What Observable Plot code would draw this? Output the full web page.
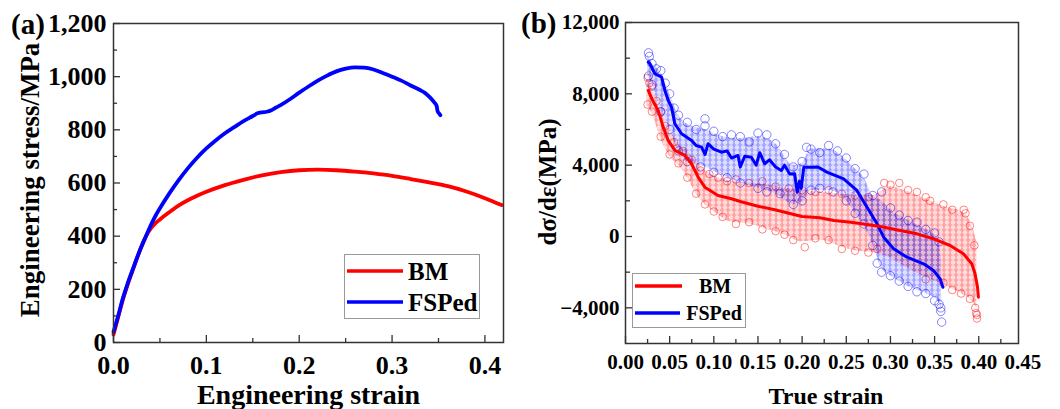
<!DOCTYPE html>
<html><head><meta charset="utf-8">
<script src="https://cdn.jsdelivr.net/npm/d3@7"></script>
<script src="https://cdn.jsdelivr.net/npm/@observablehq/plot@0.6"></script>
<style>
body{margin:0;background:#fff;}
#wrap{position:relative;width:1060px;height:409px;font-family:"Liberation Serif","Times New Roman",serif;font-weight:bold;color:#000;overflow:hidden;}
.pane{position:absolute;top:0;}
.tag{position:absolute;font-size:29px;line-height:1;}
.leg{position:absolute;}
</style>
</head><body>
<svg width="0" height="0" style="position:absolute">
<defs>
<pattern id="patR" width="6" height="5" patternUnits="userSpaceOnUse">
<circle cx="3" cy="2.5" r="3" fill="none" stroke="#ff0000" stroke-width="0.55" stroke-opacity="0.6"/>
</pattern>
<pattern id="patB" width="6" height="5" patternUnits="userSpaceOnUse">
<circle cx="3" cy="2.5" r="3" fill="none" stroke="#0000ff" stroke-width="0.55" stroke-opacity="0.6"/>
</pattern>
</defs>
</svg>
<div id="wrap">
  <div class="pane" id="pa" style="left:0"></div>
  <div class="pane" id="pb" style="left:530px"></div>
  <div class="tag" style="left:11px;top:10px">(a)</div>
  <div class="tag" style="left:521px;top:9px">(b)</div>
</div>
<script>
// ---------- shared series ----------
const seriesNames = ["BM", "FSPed"];
const seriesColors = ["#ff0000", "#0000ff"];

// ---------- panel (a): engineering stress-strain ----------
const bmStrainA = [0, 0.005, 0.01, 0.015, 0.02, 0.025, 0.03, 0.035, 0.04, 0.045, 0.05, 0.06, 0.07, 0.08, 0.09, 0.1, 0.12, 0.14, 0.16, 0.18, 0.2, 0.22, 0.24, 0.26, 0.28, 0.3, 0.32, 0.34, 0.36, 0.38, 0.4, 0.418];
const bmStressA = [30, 95, 160, 215, 265, 315, 360, 400, 428, 448, 463, 490, 515, 535, 552, 567, 592, 612, 629, 641, 648, 650, 648, 643, 636, 627, 615, 602, 588, 568, 543, 517];
const fsStrainA = [0, 0.005, 0.01, 0.015, 0.02, 0.025, 0.03, 0.035, 0.04, 0.045, 0.05, 0.06, 0.07, 0.08, 0.09, 0.1, 0.11, 0.12, 0.13, 0.14, 0.15, 0.155, 0.16, 0.165, 0.17, 0.175, 0.18, 0.19, 0.2, 0.21, 0.22, 0.23, 0.24, 0.25, 0.26, 0.27, 0.28, 0.29, 0.3, 0.31, 0.32, 0.33, 0.335, 0.34, 0.345, 0.348, 0.349, 0.351, 0.352];
const fsStressA = [40, 100, 165, 220, 268, 315, 360, 400, 440, 475, 505, 560, 610, 655, 695, 730, 760, 787, 810, 833, 852, 862, 866, 868, 874, 884, 893, 915, 940, 963, 985, 1004, 1020, 1030, 1035, 1034, 1027, 1014, 1000, 985, 967, 950, 940, 925, 905, 890, 870, 860, 855];
const aXMajor = [0, 0.1, 0.2, 0.3, 0.4];
const aXMinor = [0.05, 0.15, 0.25, 0.35];
const aYMajor = [0, 200, 400, 600, 800, 1000, 1200];
const aYMinor = [100, 300, 500, 700, 900, 1100];
const aXTitle = "Engineering strain";
const aYTitle = "Engineering stress/MPa";

// ---------- panel (b): strain hardening rate ----------
const bmStrainB = [0.0258, 0.030, 0.037, 0.0427, 0.0483, 0.0559, 0.0672, 0.0748, 0.0822, 0.0898, 0.1048, 0.12, 0.131, 0.15, 0.169, 0.185, 0.2, 0.22, 0.236, 0.255, 0.2735, 0.2885, 0.311, 0.33, 0.3488, 0.3676, 0.3826, 0.3921, 0.3958, 0.3985, 0.3996];
const bmRateB = [8191, 7700, 7069, 6132, 5386, 4825, 4544, 4078, 3327, 2766, 2300, 2115, 1950, 1700, 1500, 1300, 1120, 1050, 898, 800, 673, 561, 337, 150, -129, -505, -970, -1532, -2093, -2800, -3405];
const fsStrainB = [0.0258, 0.0277, 0.0333, 0.0409, 0.0446, 0.0484, 0.0521, 0.0559, 0.0635, 0.0748, 0.08, 0.0861, 0.09, 0.0935, 0.1, 0.1086, 0.115, 0.12, 0.1274, 0.13, 0.135, 0.1425, 0.148, 0.152, 0.1576, 0.163, 0.17, 0.1764, 0.18, 0.186, 0.1915, 0.1945, 0.197, 0.199, 0.2019, 0.2095, 0.218, 0.228, 0.247, 0.262, 0.2735, 0.2848, 0.2923, 0.3036, 0.3187, 0.3375, 0.3488, 0.3563, 0.3594];
const fsRateB = [9778, 9689, 9128, 8937, 8191, 7630, 7254, 6323, 5761, 5386, 5100, 5010, 4600, 5201, 4900, 4729, 4800, 4400, 4544, 3900, 4500, 4449, 4000, 4700, 4078, 4300, 3900, 3703, 4000, 3500, 3517, 2486, 3100, 2700, 3888, 3888, 3900, 3609, 3236, 2581, 1644, 712, -37, -690, -1161, -1532, -1907, -2373, -2844];

// scatter cloud extents
const bmBandX  = [0.024, 0.03, 0.04, 0.05, 0.06, 0.07, 0.08, 0.09, 0.10, 0.12, 0.14, 0.16, 0.18, 0.20, 0.22, 0.24, 0.26, 0.28, 0.30, 0.32, 0.34, 0.36, 0.38, 0.39, 0.398];
const bmBandLo = [7300, 6900, 5500, 4500, 4000, 3300, 2400, 1800, 1400, 800, 700, 400, 100, -300, -200, -500, -800, -900, -1200, -1800, -2300, -2700, -3200, -3500, -4000];
const bmBandHi = [8900, 8400, 7000, 6000, 5200, 4800, 4200, 3700, 3400, 3100, 3000, 2900, 2700, 2600, 2500, 2400, 2300, 2300, 2800, 2500, 2100, 1700, 1400, 900, -300];
const fsBandX  = [0.025, 0.03, 0.04, 0.05, 0.06, 0.07, 0.09, 0.11, 0.13, 0.15, 0.17, 0.19, 0.20, 0.21, 0.23, 0.25, 0.26, 0.27, 0.28, 0.29, 0.30, 0.32, 0.34, 0.355, 0.358];
const fsBandLo = [9000, 8500, 7000, 6000, 4800, 4200, 3900, 3400, 3000, 2700, 2400, 1800, 1900, 2600, 2600, 2000, 1300, 600, -400, -1800, -2200, -2800, -3200, -3700, -4200];
const fsBandHi = [10200, 9700, 9200, 8000, 6800, 6300, 6000, 5600, 5500, 5600, 5200, 4000, 4100, 4900, 4900, 4300, 3800, 3300, 2300, 2000, 1500, 900, 400, -200, -1500];

// individually visible circles at the cloud edges
const bmDotX = [0.025, 0.027, 0.03, 0.035, 0.04, 0.045, 0.055, 0.065, 0.075, 0.085, 0.095, 0.105, 0.115, 0.125, 0.14, 0.155, 0.17, 0.185, 0.2, 0.215, 0.23, 0.245, 0.26, 0.275, 0.293, 0.3, 0.31, 0.32, 0.33, 0.34, 0.345, 0.36, 0.37, 0.383, 0.385, 0.39, 0.395,
  0.025, 0.03, 0.04, 0.05, 0.06, 0.07, 0.08, 0.09, 0.1, 0.11, 0.125, 0.14, 0.155, 0.17, 0.18, 0.19, 0.203, 0.215, 0.23, 0.245, 0.26, 0.275, 0.285, 0.34, 0.36, 0.37, 0.38, 0.39, 0.396, 0.397, 0.398, 0.398];
const bmDotY = [8900, 8600, 8400, 7600, 7000, 6200, 5300, 4800, 4300, 3700, 3500, 3300, 3100, 3200, 3000, 3100, 2800, 2700, 2600, 2500, 2600, 2400, 2300, 2200, 3000, 2900, 3000, 2600, 2500, 2200, 2000, 1800, 1500, 1500, 1300, 600, -500,
  7400, 7000, 5600, 4600, 4100, 3300, 2400, 1800, 1400, 1100, 700, 800, 400, 300, 100, -200, -600, -100, -200, -700, -800, -900, -700, -2400, -2600, -3000, -3200, -3500, -4000, -4300, -4600, -4400];
const fsDotX = [0.026, 0.027, 0.03, 0.035, 0.04, 0.045, 0.05, 0.055, 0.06, 0.07, 0.08, 0.09, 0.09, 0.1, 0.11, 0.12, 0.13, 0.14, 0.15, 0.16, 0.17, 0.18, 0.19, 0.2, 0.205, 0.21, 0.22, 0.23, 0.24, 0.25, 0.26, 0.27, 0.28, 0.29, 0.3, 0.31, 0.32, 0.33, 0.34, 0.35, 0.355,
  0.026, 0.03, 0.04, 0.05, 0.06, 0.07, 0.085, 0.1, 0.115, 0.13, 0.15, 0.16, 0.175, 0.19, 0.2, 0.21, 0.22, 0.235, 0.25, 0.26, 0.27, 0.28, 0.285, 0.29, 0.3, 0.31, 0.32, 0.33, 0.34, 0.35, 0.355, 0.357, 0.357, 0.358];
const fsDotY = [10300, 10100, 9700, 9400, 9300, 8600, 8000, 7200, 6800, 6400, 6000, 6600, 6200, 5900, 5600, 5700, 5600, 5300, 5800, 5700, 5200, 4600, 3900, 4200, 5000, 4900, 4700, 5100, 4800, 4400, 3800, 3500, 2300, 2500, 1600, 1200, 900, 800, 400, 200, -300,
  9000, 8500, 7000, 6000, 4800, 4200, 3900, 3600, 3300, 3000, 2700, 2500, 2400, 1800, 2000, 2600, 2700, 2500, 2000, 1300, 700, -500, -1500, -2000, -2200, -2500, -2800, -3100, -3200, -3600, -3800, -4000, -4200, -4800];

const bXMajor = [0, 0.05, 0.1, 0.15, 0.2, 0.25, 0.3, 0.35, 0.4];
const bXLabels = [0, 0.05, 0.1, 0.15, 0.2, 0.25, 0.3, 0.35, 0.4, 0.45];
const bXMinor = [0.025, 0.075, 0.125, 0.175, 0.225, 0.275, 0.325, 0.375, 0.425];
const bYMajor = [-4000, 0, 4000, 8000, 12000];
const bYMinor = [-2000, 2000, 6000, 10000];
const bXTitle = "True strain";
const bYTitle = "dσ/dε(MPa)";

// ---------- build ----------
const FONT = '"Liberation Serif","Times New Roman",serif';
const zip = (xs, ys) => xs.map((x, i) => ({x, y: ys[i]}));
const band = (xs, lo, hi) => xs.map((x, i) => ({x, lo: lo[i], hi: hi[i]}));
const AX = "#333";

const plotA = Plot.plot({
  width: 530, height: 409,
  marginLeft: 113, marginRight: 27, marginTop: 23, marginBottom: 67,
  style: {fontFamily: FONT, fontWeight: "bold", background: "transparent", color: "#000", overflow: "visible"},
  x: {domain: [0, 0.42], label: null},
  y: {domain: [0, 1200], label: null},
  marks: [
    Plot.line(zip(bmStrainA, bmStressA), {x: "x", y: "y", stroke: seriesColors[0], strokeWidth: 3.8, curve: "monotone-x"}),
    Plot.line(zip(fsStrainA, fsStressA), {x: "x", y: "y", stroke: seriesColors[1], strokeWidth: 3.8, curve: "monotone-x"}),
    Plot.frame({stroke: AX, strokeWidth: 1.5}),
    Plot.axisX(aXMajor, {tickSize: -7, fill: "none", stroke: AX, strokeWidth: 1.3, label: null}),
    Plot.axisX(aXMinor, {tickSize: -4, fill: "none", stroke: AX, strokeWidth: 1.3, label: null}),
    Plot.axisY(aYMajor, {tickSize: -7, fill: "none", stroke: AX, strokeWidth: 1.3, label: null}),
    Plot.axisY(aYMinor, {tickSize: -4, fill: "none", stroke: AX, strokeWidth: 1.3, label: null}),
    Plot.axisX(aXMajor, {tickSize: 0, tickPadding: 13, tickFormat: d3.format(".1f"), fontSize: 26, label: null}),
    Plot.axisY(aYMajor, {tickSize: 0, tickPadding: 7, tickFormat: d3.format(","), fontSize: 26, label: null}),
    Plot.text([aXTitle], {text: d => d, frameAnchor: "bottom", lineAnchor: "bottom", dy: 61, fontSize: 28, fontWeight: "bold"}),
    Plot.text([aYTitle], {text: d => d, frameAnchor: "left", textAnchor: "middle", lineAnchor: "middle", rotate: -90, dx: -83, dy: -3, fontSize: 27, fontWeight: "bold"})
  ]
});
document.getElementById("pa").appendChild(plotA);

const plotB = Plot.plot({
  width: 530, height: 409,
  marginLeft: 95, marginRight: 42, marginTop: 22, marginBottom: 66,
  style: {fontFamily: FONT, fontWeight: "bold", background: "transparent", color: "#000", overflow: "visible"},
  x: {domain: [0, 0.445], label: null},
  y: {domain: [-6000, 12000], label: null},
  marks: [
    Plot.areaY(band(bmBandX, bmBandLo, bmBandHi), {x: "x", y1: "lo", y2: "hi", fill: seriesColors[0], fillOpacity: 0.14, curve: "monotone-x"}),
    Plot.areaY(band(bmBandX, bmBandLo, bmBandHi), {x: "x", y1: "lo", y2: "hi", fill: "url(#patR)", curve: "monotone-x"}),
    Plot.dot(zip(bmDotX, bmDotY), {x: "x", y: "y", r: 3.8, stroke: seriesColors[0], strokeWidth: 0.8, strokeOpacity: 0.6}),
    Plot.areaY(band(fsBandX, fsBandLo, fsBandHi), {x: "x", y1: "lo", y2: "hi", fill: seriesColors[1], fillOpacity: 0.13, curve: "monotone-x"}),
    Plot.areaY(band(fsBandX, fsBandLo, fsBandHi), {x: "x", y1: "lo", y2: "hi", fill: "url(#patB)", curve: "monotone-x"}),
    Plot.dot(zip(fsDotX, fsDotY), {x: "x", y: "y", r: 4.2, stroke: seriesColors[1], strokeWidth: 0.8, strokeOpacity: 0.6}),
    Plot.line(zip(fsStrainB, fsRateB), {x: "x", y: "y", stroke: seriesColors[1], strokeWidth: 3}),
    Plot.line(zip(bmStrainB, bmRateB), {x: "x", y: "y", stroke: seriesColors[0], strokeWidth: 3}),
    Plot.frame({stroke: AX, strokeWidth: 1.5}),
    Plot.axisX(bXMajor, {tickSize: -7, fill: "none", stroke: AX, strokeWidth: 1.3, label: null}),
    Plot.axisX(bXMinor, {tickSize: -4, fill: "none", stroke: AX, strokeWidth: 1.3, label: null}),
    Plot.axisY(bYMajor, {tickSize: -7, fill: "none", stroke: AX, strokeWidth: 1.3, label: null}),
    Plot.axisY(bYMinor, {tickSize: -5, fill: "none", stroke: AX, strokeWidth: 1.3, label: null}),
    Plot.axisX(bXLabels, {tickSize: 0, tickPadding: 11, tickFormat: d3.format(".2f"), fontSize: 21, label: null}),
    Plot.axisY(bYMajor, {tickSize: 0, tickPadding: 6, tickFormat: d3.format(","), fontSize: 21, label: null}),
    Plot.text([bXTitle], {text: d => d, frameAnchor: "bottom", lineAnchor: "bottom", dx: 4, dy: 60, fontSize: 24, fontWeight: "bold"}),
    Plot.text([bYTitle], {text: d => d, frameAnchor: "left", textAnchor: "middle", lineAnchor: "middle", rotate: -90, dx: -78, dy: -1, fontSize: 25, fontWeight: "bold"})
  ]
});
document.getElementById("pb").appendChild(plotB);

// ---------- legends ----------
function legend(box, rows, fontSize) {
  const svg = d3.select("#wrap").append("svg").attr("class", "leg")
    .style("left", box.left + "px").style("top", box.top + "px")
    .attr("width", box.w).attr("height", box.h);
  svg.append("rect").attr("x", 0.5).attr("y", 0.5).attr("width", box.w - 1).attr("height", box.h - 1)
    .attr("fill", "#fff").attr("stroke", "#999").attr("stroke-width", 1);
  rows.forEach((r, i) => {
    svg.append("line").attr("x1", r.lx1).attr("x2", r.lx2).attr("y1", r.y).attr("y2", r.y)
      .attr("stroke", seriesColors[i]).attr("stroke-width", 3.5);
    svg.append("text").attr("x", r.tx).attr("y", r.y).attr("dy", "0.34em")
      .attr("text-anchor", r.anchor).attr("font-family", FONT).attr("font-weight", "bold")
      .attr("font-size", fontSize).text(seriesNames[i]);
  });
}
legend({left: 344, top: 254, w: 136, h: 65},
  [{y: 17, lx1: 3, lx2: 59, tx: 64, anchor: "start"}, {y: 48, lx1: 3, lx2: 59, tx: 64, anchor: "start"}], 25);
legend({left: 632, top: 273, w: 114, h: 55},
  [{y: 13, lx1: 3, lx2: 50, tx: 83, anchor: "middle"}, {y: 40, lx1: 3, lx2: 48, tx: 82, anchor: "middle"}], 20);
</script>
</body></html>
